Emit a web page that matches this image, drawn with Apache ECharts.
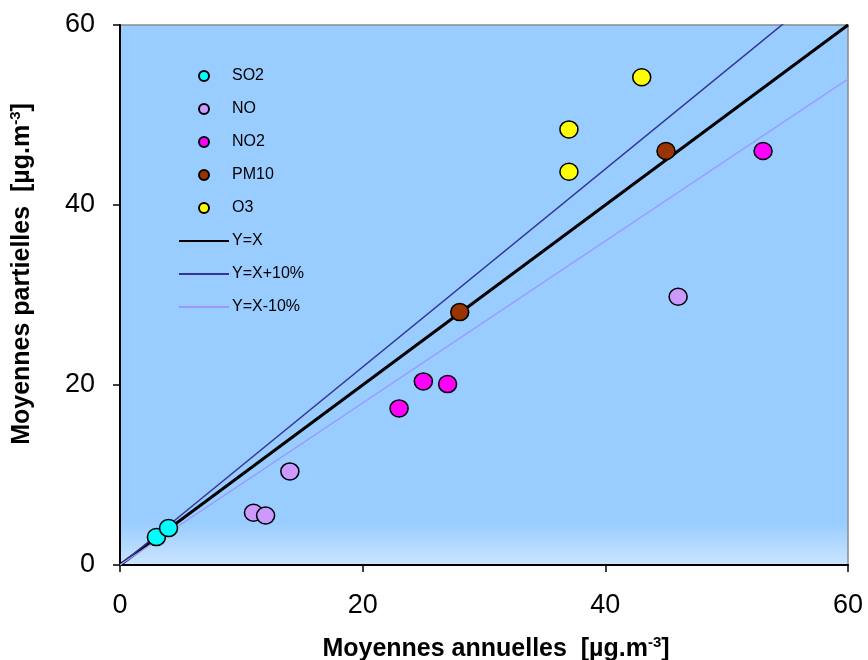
<!DOCTYPE html>
<html>
<head>
<meta charset="utf-8">
<script src="https://cdn.jsdelivr.net/npm/echarts@6/dist/echarts.min.js"></script>
<style>html,body{margin:0;padding:0;background:#fff}#c{width:868px;height:660px}</style>
</head>
<body>
<div id="c"></div>
<script>
var xTicks = [0, 20, 40, 60];
var so2X = [3, 4], so2Y = [3.1, 4.1];
var noX = [11, 12, 14, 46], noY = [5.8, 5.5, 10.4, 29.8];
var no2X = [23, 25, 27, 53], no2Y = [17.4, 20.4, 20.1, 46.0];
var pm10X = [28, 45], pm10Y = [28.1, 46.0];
var o3X = [37, 37, 43], o3Y = [48.4, 43.7, 54.2];
var refX = [0, 60];
var yEq = [0, 60];
var yPlus = [0, 66];
var yMinus = [0, 54];

function pairs(xs, ys) { return xs.map(function (x, i) { return [x, ys[i]]; }); }

var chart = echarts.init(document.getElementById('c'));
function scat(name, color, xs, ys) {
  return {
    name: name, type: 'scatter', z: 5,
    symbol: 'circle', symbolSize: [18, 17],
    itemStyle: { color: color, borderColor: '#000', borderWidth: 1.5, opacity: 1 },
    data: pairs(xs, ys)
  };
}
function line(name, color, w, ys) {
  return {
    name: name, type: 'line', z: 3, symbol: 'none', clip: true,
    lineStyle: { color: color, width: w },
    itemStyle: { color: color },
    data: pairs(refX, ys)
  };
}
var supStyle = { fontSize: 15, fontWeight: 'bold', verticalAlign: 'top', padding: [0, 0, 13, 0], fontFamily: 'Arial, Liberation Sans', color: '#000' };
chart.setOption({
  animation: false,
  backgroundColor: '#fff',
  grid: {
    left: 120, right: 20, top: 25, bottom: 95, show: true,
    containLabel: false, outerBoundsMode: 'none',
    borderColor: '#8a8a8a', borderWidth: 1.5,
    backgroundColor: new echarts.graphic.LinearGradient(0, 0, 0, 1, [
      { offset: 0, color: '#99CCFF' },
      { offset: 0.92, color: '#99CCFF' },
      { offset: 1, color: '#CCE5FF' }
    ])
  },
  legend: {
    orient: 'vertical', left: 173, top: 63,
    itemWidth: 50, itemHeight: 10, itemGap: 17,
    textStyle: { fontFamily: 'Arial, Liberation Sans', fontSize: 16, color: '#000', padding: [0, 0, 0, -2] },
    data: [
      { name: 'SO2' }, { name: 'NO' }, { name: 'NO2' }, { name: 'PM10' }, { name: 'O3' },
      { name: 'Y=X', itemStyle: { opacity: 0 } },
      { name: 'Y=X+10%', itemStyle: { opacity: 0 } },
      { name: 'Y=X-10%', itemStyle: { opacity: 0 } }
    ]
  },
  xAxis: {
    type: 'value', min: 0, max: 60, interval: 20,
    name: 'Moyennes annuelles  [µg.m{sup|-3}]',
    nameLocation: 'middle', nameGap: 70,
    nameTextStyle: {
      fontFamily: 'Arial, Liberation Sans', fontSize: 25, fontWeight: 'bold', color: '#000',
      padding: [0, 0, 0, 24],
      rich: { sup: supStyle }
    },
    axisLine: { lineStyle: { color: '#000', width: 2 } },
    axisTick: { inside: false, length: 7, lineStyle: { color: '#000', width: 1.5 } },
    axisLabel: { fontFamily: 'Arial, Liberation Sans', fontSize: 27, color: '#000', margin: 27 },
    splitLine: { show: false }
  },
  yAxis: {
    type: 'value', min: 0, max: 60, interval: 20,
    name: 'Moyennes partielles  [µg.m{sup|-3}]',
    nameLocation: 'middle', nameGap: 84, nameRotate: 90,
    nameTextStyle: {
      fontFamily: 'Arial, Liberation Sans', fontSize: 25, fontWeight: 'bold', color: '#000',
      padding: [0, 0, 0, 42],
      rich: { sup: supStyle }
    },
    axisLine: { show: true, lineStyle: { color: '#000', width: 2 } },
    axisTick: { show: true, inside: false, length: 7, lineStyle: { color: '#000', width: 1.5 } },
    axisLabel: { fontFamily: 'Arial, Liberation Sans', fontSize: 27, color: '#000', margin: 25 },
    splitLine: { show: false }
  },
  series: [
    scat('SO2', '#00FFFF', so2X, so2Y),
    scat('NO', '#CC99FF', noX, noY),
    scat('NO2', '#FF00FF', no2X, no2Y),
    scat('PM10', '#993300', pm10X, pm10Y),
    scat('O3', '#FFFF00', o3X, o3Y),
    line('Y=X', '#000000', 3, yEq),
    line('Y=X+10%', '#333399', 1.5, yPlus),
    line('Y=X-10%', '#9999FF', 1.5, yMinus)
  ]
});
</script>
</body>
</html>
